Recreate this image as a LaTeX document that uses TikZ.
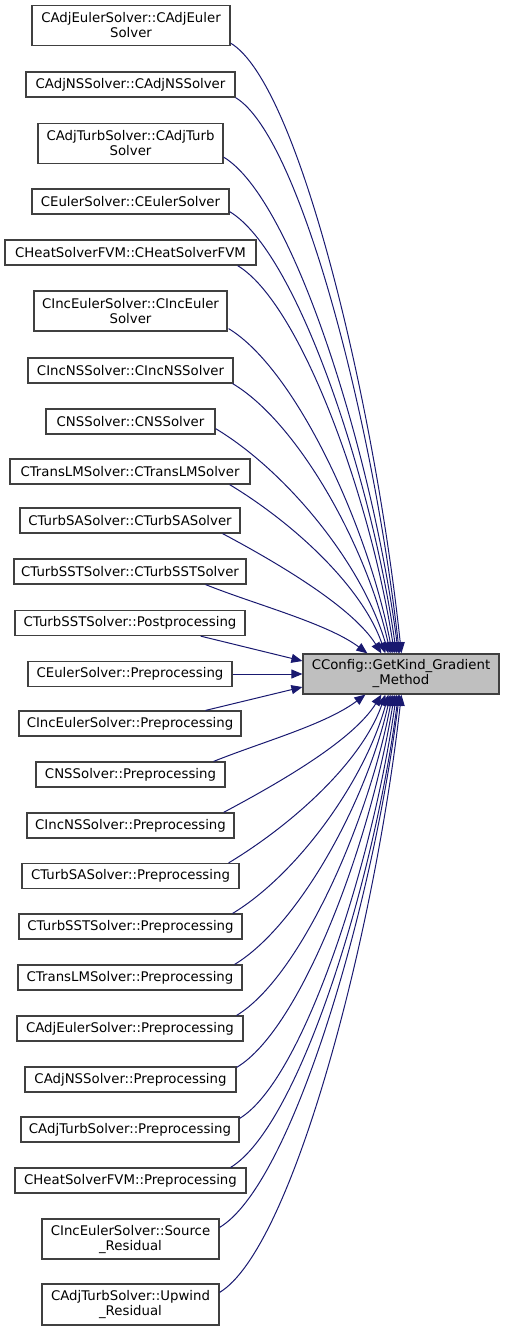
\documentclass[tikz,border=0pt]{standalone}
\usepackage{fontspec}
\setmainfont{DejaVu Sans}
\usetikzlibrary{arrows.meta,calc}
\definecolor{boxline}{HTML}{404040}
\definecolor{edgecol}{HTML}{191970}
\definecolor{tfill}{HTML}{BFBFBF}
\tikzset{
  fnbox/.style={draw=boxline, line width=1.2pt, fill=white, inner sep=0pt, align=center,
    font=\fontsize{13.3}{15}\selectfont, minimum height=25pt},
  fnbox2/.style={fnbox, minimum height=40pt},
  target/.style={fnbox2, fill=tfill},
  edge/.style={draw=edgecol, line width=1pt, -{Triangle[length=11pt,width=9pt]}}
}
\begin{document}
\begin{tikzpicture}[x=1pt,y=-1pt]
\useasboundingbox (0,0) rectangle (504,1331);
\node[fnbox2, minimum width=198pt] (n1) at (131,25.5) {CAdjEulerSolver::CAdjEuler\\Solver};
\node[fnbox, minimum width=209pt] (n2) at (130.5,84.5) {CAdjNSSolver::CAdjNSSolver};
\node[fnbox2, minimum width=185pt] (n3) at (130.5,143.5) {CAdjTurbSolver::CAdjTurb\\Solver};
\node[fnbox, minimum width=197pt] (n4) at (130.5,201.5) {CEulerSolver::CEulerSolver};
\node[fnbox, minimum width=251pt] (n5) at (130.5,252.5) {CHeatSolverFVM::CHeatSolverFVM};
\node[fnbox2, minimum width=193pt] (n6) at (130.5,311) {CIncEulerSolver::CIncEuler\\Solver};
\node[fnbox, minimum width=205pt] (n7) at (130.5,370.5) {CIncNSSolver::CIncNSSolver};
\node[fnbox, minimum width=169pt] (n8) at (130.5,421.5) {CNSSolver::CNSSolver};
\node[fnbox, minimum width=240pt] (n9) at (130,471.5) {CTransLMSolver::CTransLMSolver};
\node[fnbox, minimum width=220pt] (n10) at (130,520.5) {CTurbSASolver::CTurbSASolver};
\node[fnbox, minimum width=232pt] (n11) at (130,571.5) {CTurbSSTSolver::CTurbSSTSolver};
\node[fnbox, minimum width=230pt] (n12) at (130,623) {CTurbSSTSolver::Postprocessing};
\node[fnbox, minimum width=204pt] (n13) at (130,674) {CEulerSolver::Preprocessing};
\node[fnbox, minimum width=222pt] (n14) at (130,723.5) {CIncEulerSolver::Preprocessing};
\node[fnbox, minimum width=189pt] (n15) at (130.5,774.5) {CNSSolver::Preprocessing};
\node[fnbox, minimum width=207pt] (n16) at (130.5,825.5) {CIncNSSolver::Preprocessing};
\node[fnbox, minimum width=217pt] (n17) at (130.5,876) {CTurbSASolver::Preprocessing};
\node[fnbox, minimum width=223pt] (n18) at (130.5,926.5) {CTurbSSTSolver::Preprocessing};
\node[fnbox, minimum width=224pt] (n19) at (130,977.5) {CTransLMSolver::Preprocessing};
\node[fnbox, minimum width=226pt] (n20) at (130,1028.5) {CAdjEulerSolver::Preprocessing};
\node[fnbox, minimum width=211pt] (n21) at (130.5,1079.5) {CAdjNSSolver::Preprocessing};
\node[fnbox, minimum width=218pt] (n22) at (130,1129.5) {CAdjTurbSolver::Preprocessing};
\node[fnbox, minimum width=231pt] (n23) at (130.5,1180.5) {CHeatSolverFVM::Preprocessing};
\node[fnbox2, minimum width=177pt] (n24) at (130.5,1239) {CIncEulerSolver::Source\\\_Residual};
\node[fnbox2, minimum width=177pt, minimum height=41pt] (n25) at (130.5,1304.5) {CAdjTurbSolver::Upwind\\\_Residual};
\node[target, minimum width=196pt] (t) at (401,674) {CConfig::GetKind\_Gradient\\\_Method};
% upper edges
\draw[edge] ($(n1.south east)+(0,-3)$) .. controls +(69,41) and +(-26,-245) .. ($(t.north west)+(99,0)$);
\draw[edge] (n2.south east) .. controls +(66,40) and +(-25,-223) .. ($(t.north west)+(97,0)$);
\draw[edge] ($(n3.south east)+(0,-7)$) .. controls +(70,42) and +(-26,-199) .. ($(t.north west)+(96,0)$);
\draw[edge] ($(n4.south east)+(0,-3)$) .. controls +(67,40) and +(-25,-177) .. ($(t.north west)+(94,0)$);
\draw[edge] ($(n5.south east)+(-19,0)$) .. controls +(63,38) and +(-24,-156) .. ($(t.north west)+(92,0)$);
\draw[edge] ($(n6.south east)+(1,-3)$) .. controls +(66,40) and +(-25,-130) .. ($(t.north west)+(90,0)$);
\draw[edge] ($(n7.south east)+(-1,0)$) .. controls +(64,38) and +(-24,-109) .. ($(t.north west)+(88,0)$);
\draw[edge] ($(n8.south east)+(0,-6)$) .. controls +(70,42) and +(-26,-90) .. ($(t.north west)+(86,0)$);
\draw[edge] ($(n9.south east)+(-21,0)$) .. controls +(63,38) and +(-24,-68) .. ($(t.north west)+(83,0)$);
\draw[edge] ($(n10.south east)+(-18,0)$) .. controls +(60,32) and +(-28,-45) .. ($(t.north west)+(79,0)$);
\draw[edge] ($(n11.south east)+(-41,0)$) .. controls +(50,20) and +(-40,-30) .. ($(t.north west)+(65,0)$);
% middle edges
\draw[edge] ($(n12.south east)+(-45,0)$) -- ($(t.west)+(0,-13)$);
\draw[edge] (n13.east) -- (t.west);
\draw[edge] ($(n14.north east)+(-36,0)$) -- ($(t.west)+(0,13)$);
% lower edges
\draw[edge] ($(n15.north east)+(-12,0)$) .. controls +(50,-20) and +(-40,30) .. ($(t.south west)+(63,0)$);
\draw[edge] ($(n16.north east)+(-11,0)$) .. controls +(60,-32) and +(-28,45) .. ($(t.south west)+(79,0)$);
\draw[edge] ($(n17.north east)+(-11,0)$) .. controls +(63,-38) and +(-24,68) .. ($(t.south west)+(83,0)$);
\draw[edge] ($(n18.north east)+(-10,0)$) .. controls +(63,-38) and +(-24,88) .. ($(t.south west)+(86,0)$);
\draw[edge] ($(n19.north east)+(-8,0)$) .. controls +(63,-38) and +(-24,108) .. ($(t.south west)+(88,0)$);
\draw[edge] ($(n20.north east)+(-7,0)$) .. controls +(63,-38) and +(-24,129) .. ($(t.south west)+(90,0)$);
\draw[edge] ($(n21.north east)+(0,1)$) .. controls +(64,-38) and +(-24,150) .. ($(t.south west)+(92,0)$);
\draw[edge] ($(n22.north east)+(0,2)$) .. controls +(63,-38) and +(-24,170) .. ($(t.south west)+(94,0)$);
\draw[edge] ($(n23.north east)+(-16,0)$) .. controls +(68,-41) and +(-25,190) .. ($(t.south west)+(96,0)$);
\draw[edge] ($(n24.north east)+(0,9)$) .. controls +(72,-43) and +(-27,214) .. ($(t.south west)+(97,0)$);
\draw[edge] ($(n25.north east)+(0,9)$) .. controls +(73,-44) and +(-27,240) .. ($(t.south west)+(99,0)$);
\end{tikzpicture}
\end{document}
